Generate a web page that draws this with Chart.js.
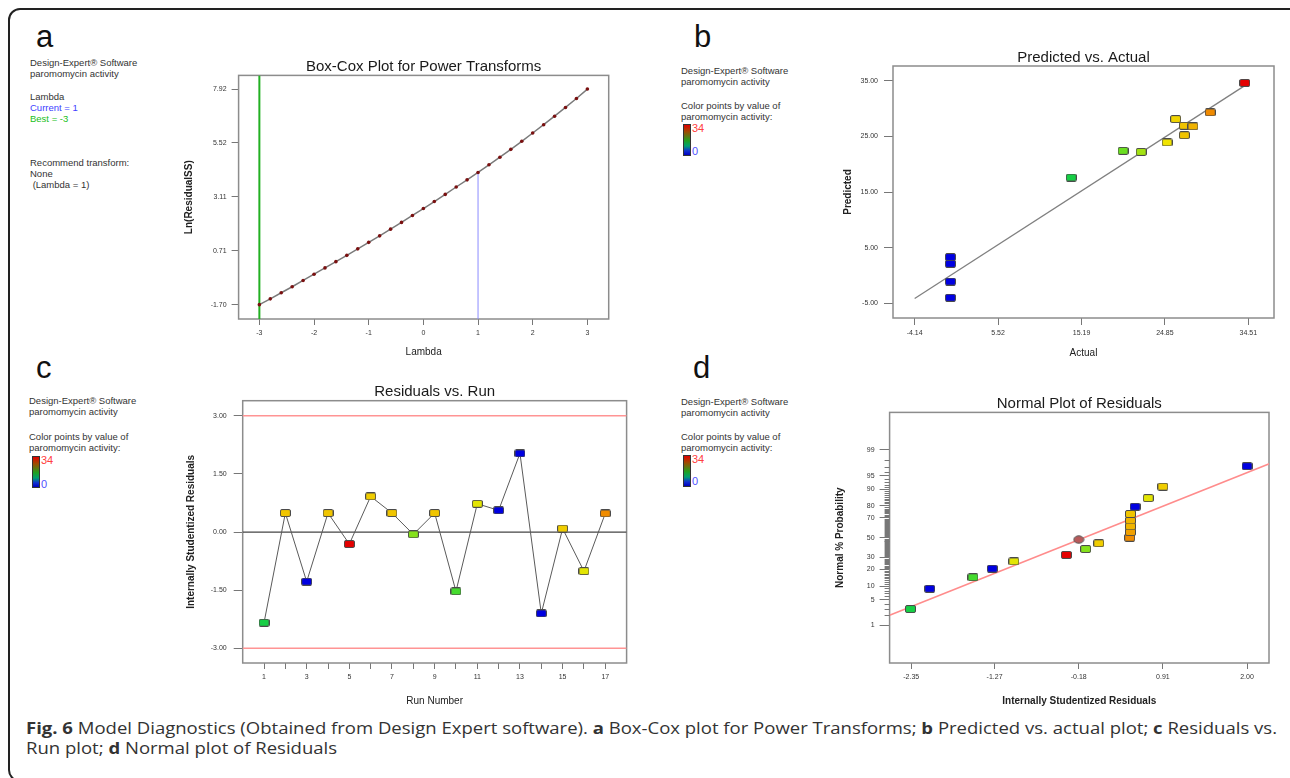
<!DOCTYPE html>
<html>
<head>
<meta charset="utf-8">
<title>Model Diagnostics</title>
<script src="https://cdn.jsdelivr.net/npm/chart.js@4.4.0/dist/chart.umd.min.js"></script>
<style>
body { margin: 0; background: #fff; width: 1290px; height: 778px; overflow: hidden; position: relative; font-family: "Liberation Sans", Arial, sans-serif; }
#frame { position: absolute; left: 8px; top: 8px; width: 1300px; height: 774px; border: 2px solid #222; border-radius: 12px; box-sizing: border-box; }
.letter { position: absolute; font-size: 31px; line-height: 31px; color: #111; }
.side { position: absolute; font-size: 9.5px; line-height: 11px; color: #333; white-space: nowrap; }
.cbar { position: absolute; width: 6px; height: 30px; border: 1px solid #333;
  background: linear-gradient(to bottom, #e00000 0%, #a04a00 22%, #20a020 52%, #00a070 70%, #1030d0 86%, #0000c0 100%); }
.hi { position: absolute; font-size: 11px; line-height: 11px; }
canvas { position: absolute; }
#caption { position: absolute; left: 26px; top: 718px; font-family: "Open Sans", sans-serif; font-size: 16.5px; line-height: 20px; color: #333; transform-origin: left top; white-space: nowrap; }
#caption span { display: inline-block; }
</style>
</head>
<body>
<div id="frame"></div>

<div class="letter" style="left:36px;top:21px">a</div>
<div class="letter" style="left:694px;top:21px">b</div>
<div class="letter" style="left:36px;top:352px">c</div>
<div class="letter" style="left:693px;top:352px">d</div>

<!-- panel a notes -->
<div class="side" style="left:30px;top:57px">Design-Expert® Software<br>paromomycin activity</div>
<div class="side" style="left:30px;top:91px">Lambda<br><span style="color:#4040ff">Current = 1</span><br><span style="color:#20c020">Best = -3</span></div>
<div class="side" style="left:30px;top:157px">Recommend transform:<br>None<br>&nbsp;(Lambda = 1)</div>

<!-- panel b notes -->
<div class="side" style="left:681px;top:65px">Design-Expert® Software<br>paromomycin activity</div>
<div class="side" style="left:681px;top:100px">Color points by value of<br>paromomycin activity:</div>
<div class="cbar" style="left:683px;top:124px"></div>
<div class="hi" style="left:692px;top:123px;color:#ff4040">34</div>
<div class="hi" style="left:692px;top:146px;color:#5050ff">0</div>

<!-- panel c notes -->
<div class="side" style="left:29px;top:395px">Design-Expert® Software<br>paromomycin activity</div>
<div class="side" style="left:29px;top:431px">Color points by value of<br>paromomycin activity:</div>
<div class="cbar" style="left:32px;top:456px"></div>
<div class="hi" style="left:41px;top:455px;color:#ff4040">34</div>
<div class="hi" style="left:41px;top:479px;color:#5050ff">0</div>

<!-- panel d notes -->
<div class="side" style="left:681px;top:396px">Design-Expert® Software<br>paromomycin activity</div>
<div class="side" style="left:681px;top:431px">Color points by value of<br>paromomycin activity:</div>
<div class="cbar" style="left:683px;top:455px"></div>
<div class="hi" style="left:692px;top:454px;color:#ff4040">34</div>
<div class="hi" style="left:692px;top:476px;color:#5050ff">0</div>

<canvas id="boxCox" width="460" height="315" style="left:170px;top:50px"></canvas>
<canvas id="predAct" width="470" height="325" style="left:820px;top:40px"></canvas>
<canvas id="resRun" width="475" height="340" style="left:170px;top:375px"></canvas>
<canvas id="normPlot" width="470" height="335" style="left:820px;top:380px"></canvas>

<div id="caption">
  <span id="capLine1"><b>Fig. 6</b> Model Diagnostics (Obtained from Design Expert software). <b>a</b> Box-Cox plot for Power Transforms; <b>b</b> Predicted vs. actual plot; <b>c</b> Residuals vs.</span><br>
  <span>Run plot; <b>d</b> Normal plot of Residuals</span>
</div>

<script>
// ---------------- data ----------------

// a: Box-Cox
var lambdaVals = [-3.0, -2.8, -2.6, -2.4, -2.2, -2.0, -1.8, -1.6, -1.4, -1.2, -1.0, -0.8, -0.6, -0.4, -0.2,
                  0.0, 0.2, 0.4, 0.6, 0.8, 1.0, 1.2, 1.4, 1.6, 1.8, 2.0, 2.2, 2.4, 2.6, 2.8, 3.0];
var lnResidualSS = [-1.70, -1.44, -1.17, -0.90, -0.62, -0.34, -0.06, 0.22, 0.50, 0.79, 1.08, 1.37, 1.67, 1.97, 2.28,
                    2.59, 2.90, 3.22, 3.55, 3.87, 4.20, 4.54, 4.88, 5.23, 5.59, 5.96, 6.33, 6.71, 7.10, 7.50, 7.92];
var lambdaTicks = [-3, -2, -1, 0, 1, 2, 3];
var lnSSTicks = [-1.70, 0.71, 3.11, 5.52, 7.92];
var bestLambda = -3;
var currentLambda = 1;

// b: predicted vs actual
var actualVals    = [0.0, 0.0, 0.0, 0.0, 14.0, 20.0, 22.1, 25.1, 26.1, 27.1, 27.1, 28.1, 30.1, 34.1];
var predictedVals = [3.3, 2.1, -1.1, -4.0, 17.6, 22.4, 22.2, 23.9, 28.1, 26.9, 25.2, 26.8, 29.3, 34.6];
var actualTicks = [-4.14, 5.52, 15.19, 24.85, 34.51];
var actualTickLabels = ['-4.14', '5.52', '15.19', '24.85', '34.51'];
var predictedTicks = [-5, 5, 15, 25, 35];
var predictedTickLabels = ['-5.00', '5.00', '15.00', '25.00', '35.00'];

// c: residuals vs run
var runNumbers   = [1, 2, 3, 4, 5, 6, 7, 8, 9, 10, 11, 12, 13, 14, 15, 16, 17];
var runResiduals = [-2.34, 0.49, -1.28, 0.49, -0.31, 0.92, 0.49, -0.06, 0.49, -1.53, 0.73, 0.56, 2.03, -2.10, 0.09, -1.01, 0.48];
var runActivity  = [14, 27, 0, 27, 34, 26.5, 27, 21, 27, 18, 24.5, 0, 0, 0, 26.5, 24.5, 30];
var residTicks = [-3, -1.5, 0, 1.5, 3];
var residTickLabels = ['-3.00', '-1.50', '0.00', '1.50', '3.00'];
var controlLimit = 3;

// d: normal plot of residuals
var normalResiduals = [-2.36, -2.11, -1.55, -1.30, -1.02, -0.34, -0.09, 0.08, 0.48, 0.49, 0.49, 0.49, 0.49, 0.55, 0.72, 0.91, 2.00];
var normalProbs     = [2.94, 8.82, 14.7, 20.6, 26.5, 32.4, 38.2, 44.1, 50.0, 55.9, 61.8, 67.6, 73.5, 79.4, 85.3, 91.2, 97.1];
var normalActivity  = [14, 0, 18, 0, 24.5, 34, 21, 26.5, 30, 29, 28, 28, 27, 0, 24.5, 26.5, 0];
var normalResidTicks = [-2.35, -1.27, -0.18, 0.91, 2.00];
var normalResidTickLabels = ['-2.35', '-1.27', '-0.18', '0.91', '2.00'];
var probTicks = [1, 5, 10, 20, 30, 50, 70, 80, 90, 95, 99];
var normalLineResid = [-2.63, 2.29];
var normalLineProb = [2.0, 97.5];
var meanResid = -0.18;
var meanProb = 48;

// ---------------- helpers ----------------

Chart.defaults.font.family = '"Liberation Sans", Arial, sans-serif';
Chart.defaults.color = '#333';

// activity (0..34) -> Design-Expert style colour
var colorStops = [
    [0, [0, 0, 225]], [12, [0, 200, 80]], [19, [80, 222, 40]], [25, [240, 230, 0]],
    [28, [240, 180, 0]], [31, [240, 120, 0]], [34, [228, 0, 0]]
];
function activityColor(v) {
    v = Math.max(0, Math.min(34, v));
    for (var i = 1; i < colorStops.length; i++) {
        if (v <= colorStops[i][0]) {
            var a = colorStops[i - 1], b = colorStops[i];
            var t = (v - a[0]) / (b[0] - a[0]);
            var c = a[1].map(function(k, j) { return Math.round(k + (b[1][j] - k) * t); });
            return 'rgb(' + c.join(',') + ')';
        }
    }
    return 'rgb(228,0,0)';
}

var markerCache = {};
function marker(color) {
    if (markerCache[color]) return markerCache[color];
    var c = document.createElement('canvas');
    c.width = 11; c.height = 8;
    var g = c.getContext('2d');
    var x = 0.5, y = 0.5, w = 10, h = 7, r = 1.5;
    g.beginPath();
    g.moveTo(x + r, y); g.lineTo(x + w - r, y); g.quadraticCurveTo(x + w, y, x + w, y + r);
    g.lineTo(x + w, y + h - r); g.quadraticCurveTo(x + w, y + h, x + w - r, y + h);
    g.lineTo(x + r, y + h); g.quadraticCurveTo(x, y + h, x, y + h - r);
    g.lineTo(x, y + r); g.quadraticCurveTo(x, y, x + r, y);
    g.closePath();
    g.fillStyle = color; g.fill();
    g.strokeStyle = '#4a4a4a'; g.lineWidth = 1; g.stroke();
    markerCache[color] = c;
    return c;
}
function ellipseMarker() {
    var c = document.createElement('canvas');
    c.width = 12; c.height = 9;
    var g = c.getContext('2d');
    g.beginPath();
    g.ellipse(6, 4.5, 5, 3.7, 0, 0, Math.PI * 2);
    g.fillStyle = '#b85a5a'; g.fill();
    g.strokeStyle = '#555'; g.lineWidth = 1; g.stroke();
    return c;
}

// inverse normal CDF (Acklam), p in (0,1)
function probit(p) {
    var a = [-3.969683028665376e+01, 2.209460984245205e+02, -2.759285104469687e+02, 1.383577518672690e+02, -3.066479806614716e+01, 2.506628277459239e+00];
    var b = [-5.447609879822406e+01, 1.615858368580409e+02, -1.556989798598866e+02, 6.680131188771972e+01, -1.328068155288572e+01];
    var c = [-7.784894002430293e-03, -3.223964580411365e-01, -2.400758277161838e+00, -2.549671180502343e+00, 4.374664141464968e+00, 2.938163982698783e+00];
    var d = [7.784695709041462e-03, 3.224671290700398e-01, 2.445134137142996e+00, 3.754408661907416e+00];
    var q, r;
    if (p < 0.02425) {
        q = Math.sqrt(-2 * Math.log(p));
        return (((((c[0] * q + c[1]) * q + c[2]) * q + c[3]) * q + c[4]) * q + c[5]) / ((((d[0] * q + d[1]) * q + d[2]) * q + d[3]) * q + 1);
    }
    if (p <= 1 - 0.02425) {
        q = p - 0.5; r = q * q;
        return (((((a[0] * r + a[1]) * r + a[2]) * r + a[3]) * r + a[4]) * r + a[5]) * q / (((((b[0] * r + b[1]) * r + b[2]) * r + b[3]) * r + b[4]) * r + 1);
    }
    q = Math.sqrt(-2 * Math.log(1 - p));
    return -(((((c[0] * q + c[1]) * q + c[2]) * q + c[3]) * q + c[4]) * q + c[5]) / ((((d[0] * q + d[1]) * q + d[2]) * q + d[3]) * q + 1);
}
function pctToZ(p) { return probit(p / 100); }

// grey box round the plotting area
var plotFrame = {
    id: 'plotFrame',
    beforeDatasetsDraw: function(chart) {
        var a = chart.chartArea, g = chart.ctx;
        g.save();
        g.strokeStyle = '#8c8c8c';
        g.lineWidth = 1.5;
        g.strokeRect(a.left, a.top, a.right - a.left, a.bottom - a.top);
        g.restore();
    }
};

// title centred over the plotting area (Design-Expert style), not over the canvas
var plotTitle = {
    id: 'plotTitle',
    afterDraw: function(chart, args, opts) {
        var a = chart.chartArea, g = chart.ctx;
        g.save();
        g.font = '15px "Liberation Sans", Arial, sans-serif';
        g.fillStyle = '#1a1a1a';
        g.textAlign = 'center';
        g.textBaseline = 'middle';
        g.fillText(opts.text, (a.left + a.right) / 2, opts.y);
        g.restore();
    }
};

function axis(o) {
    return {
        type: 'linear',
        position: o.pos,
        min: o.min,
        max: o.max,
        afterBuildTicks: function(s) { s.ticks = o.ticks.map(function(v) { return { value: v }; }); },
        afterFit: function(s) { if (o.pos === 'left') s.width = o.size; else s.height = o.size; },
        ticks: { autoSkip: false, maxRotation: 0, font: { size: 7 }, color: '#333', padding: o.tickPad, callback: o.label },
        grid: { drawOnChartArea: false, drawTicks: true, tickLength: o.tickLen, tickColor: '#777', tickWidth: 1 },
        border: { display: false },
        title: {
            display: true, text: o.title, color: '#222',
            font: { size: 10, weight: o.bold ? 'bold' : 'normal' },
            padding: o.pos === 'left' ? { top: o.titlePad, bottom: 0 } : { top: 0, bottom: o.titlePad }
        }
    };
}

function makeChart(id, title, titleY, padTop, padRight, datasets, scales, extraPlugins) {
    return new Chart(document.getElementById(id), {
        type: 'scatter',
        data: { datasets: datasets },
        options: {
            responsive: false,
            animation: false,
            events: [],
            layout: { padding: { left: 0, right: padRight, top: padTop, bottom: 0 } },
            plugins: {
                legend: { display: false },
                tooltip: { enabled: false },
                title: { display: false },
                plotTitle: { text: title, y: titleY }
            },
            scales: scales
        },
        plugins: [plotFrame, plotTitle].concat(extraPlugins || [])
    });
}

// ---------------- a: Box-Cox ----------------
var aYMin = -2.34, aYMax = 8.53;
var currentIdx = lambdaVals.indexOf(currentLambda);
makeChart('boxCox', 'Box-Cox Plot for Power Transforms', 17, 25.4, 21.3, [
    {
        data: lambdaVals.map(function(l, i) { return { x: l, y: lnResidualSS[i] }; }),
        showLine: true, borderColor: '#7a7a7a', borderWidth: 1.5,
        pointRadius: 1.8, pointBackgroundColor: '#7a1010', pointBorderWidth: 0
    },
    {
        data: [{ x: bestLambda, y: aYMin }, { x: bestLambda, y: aYMax }],
        showLine: true, borderColor: '#22b022', borderWidth: 2, pointRadius: 0
    },
    {
        data: [{ x: currentLambda, y: aYMin }, { x: currentLambda, y: lnResidualSS[currentIdx] }],
        showLine: true, borderColor: '#8c8cff', borderWidth: 1, pointRadius: 0
    }
], {
    x: axis({ pos: 'bottom', min: -3.38, max: 3.39, ticks: lambdaTicks, size: 46, tickLen: 6, tickPad: 4,
              label: function(v) { return String(v); }, title: 'Lambda', titlePad: 7 }),
    y: axis({ pos: 'left', min: aYMin, max: aYMax, ticks: lnSSTicks, size: 68.6, tickLen: 7, tickPad: 5,
              label: function(v, i) { return lnSSTicks[i].toFixed(2); }, title: 'Ln(ResidualSS)', titlePad: 13, bold: true })
});

// ---------------- b: Predicted vs Actual ----------------
makeChart('predAct', 'Predicted vs. Actual', 18, 26, 16, [
    {
        data: actualVals.map(function(a, i) { return { x: a, y: predictedVals[i] }; }),
        pointStyle: actualVals.map(function(a) { return marker(activityColor(a)); }),
        pointRadius: 4
    },
    {
        data: [{ x: actualTicks[0], y: actualTicks[0] }, { x: actualTicks[4], y: actualTicks[4] }],
        showLine: true, borderColor: '#808080', borderWidth: 1.3, pointRadius: 0
    }
], {
    x: axis({ pos: 'bottom', min: -6.65, max: 37.49, ticks: actualTicks, size: 47, tickLen: 7, tickPad: 4,
              label: function(v, i) { return actualTickLabels[i]; }, title: 'Actual', titlePad: 6 }),
    y: axis({ pos: 'left', min: -7.64, max: 37.64, ticks: predictedTicks, size: 73, tickLen: 9, tickPad: 6,
              label: function(v, i) { return predictedTickLabels[i]; }, title: 'Predicted', titlePad: 22, bold: true })
});

// ---------------- c: Residuals vs Run ----------------
makeChart('resRun', 'Residuals vs. Run', 17, 25.7, 18.4, [
    {
        data: runNumbers.map(function(r, i) { return { x: r, y: runResiduals[i] }; }),
        showLine: true, borderColor: '#5a5a5a', borderWidth: 1,
        pointStyle: runActivity.map(function(a) { return marker(activityColor(a)); }),
        pointRadius: 4
    },
    {
        data: [{ x: 0, y: 0 }, { x: 18, y: 0 }],
        showLine: true, borderColor: '#444', borderWidth: 1.2, pointRadius: 0
    },
    {
        data: [{ x: 0, y: controlLimit }, { x: 18, y: controlLimit }],
        showLine: true, borderColor: '#ff9494', borderWidth: 1.5, pointRadius: 0
    },
    {
        data: [{ x: 0, y: -controlLimit }, { x: 18, y: -controlLimit }],
        showLine: true, borderColor: '#ff9494', borderWidth: 1.5, pointRadius: 0
    }
], {
    x: axis({ pos: 'bottom', min: 0, max: 18, ticks: runNumbers, size: 52, tickLen: 6, tickPad: 4,
              label: function(v) { return v % 2 === 1 ? String(v) : ''; }, title: 'Run Number', titlePad: 8 }),
    y: axis({ pos: 'left', min: -3.38, max: 3.39, ticks: residTicks, size: 72.7, tickLen: 9, tickPad: 7,
              label: function(v, i) { return residTickLabels[i]; }, title: 'Internally Studentized Residuals', titlePad: 15.7, bold: true })
});

// ---------------- d: Normal plot ----------------
var probMinorTicks = {
    id: 'probMinorTicks',
    afterDraw: function(chart) {
        var y = chart.scales.y, left = chart.chartArea.left, g = chart.ctx;
        g.save();
        g.strokeStyle = '#777';
        g.lineWidth = 1;
        for (var p = 1; p <= 99; p++) {
            if (probTicks.indexOf(p) >= 0) continue;
            var py = Math.round(y.getPixelForValue(pctToZ(p))) + 0.5;
            g.beginPath();
            g.moveTo(left - 5, py);
            g.lineTo(left, py);
            g.stroke();
        }
        g.restore();
    }
};
var probZ = probTicks.map(pctToZ);
makeChart('normPlot', 'Normal Plot of Residuals', 24, 32.4, 21, [
    {
        data: [{ x: meanResid, y: pctToZ(meanProb) }],
        pointStyle: ellipseMarker(), pointRadius: 4
    },
    {
        data: normalResiduals.map(function(r, i) { return { x: r, y: pctToZ(normalProbs[i]) }; }),
        pointStyle: normalActivity.map(function(a) { return marker(activityColor(a)); }),
        pointRadius: 4
    },
    {
        data: normalLineResid.map(function(r, i) { return { x: r, y: pctToZ(normalLineProb[i]) }; }),
        showLine: true, borderColor: '#ff8c8c', borderWidth: 1.5, pointRadius: 0
    }
], {
    x: axis({ pos: 'bottom', min: -2.63, max: 2.285, ticks: normalResidTicks, size: 52, tickLen: 6, tickPad: 4,
              label: function(v, i) { return normalResidTickLabels[i]; }, title: 'Internally Studentized Residuals', titlePad: 8, bold: true }),
    y: axis({ pos: 'left', min: -3.32, max: 3.32, ticks: probZ, size: 69.6, tickLen: 10, tickPad: 5,
              label: function(v, i) { return String(probTicks[i]); }, title: 'Normal % Probability', titlePad: 13.8, bold: true })
}, [probMinorTicks]);

// ---------------- caption width ----------------
var cap = document.getElementById('caption');
var w1 = document.getElementById('capLine1').getBoundingClientRect().width;
cap.style.transform = 'scaleX(' + (1251 / w1) + ')';
</script>
</body>
</html>
